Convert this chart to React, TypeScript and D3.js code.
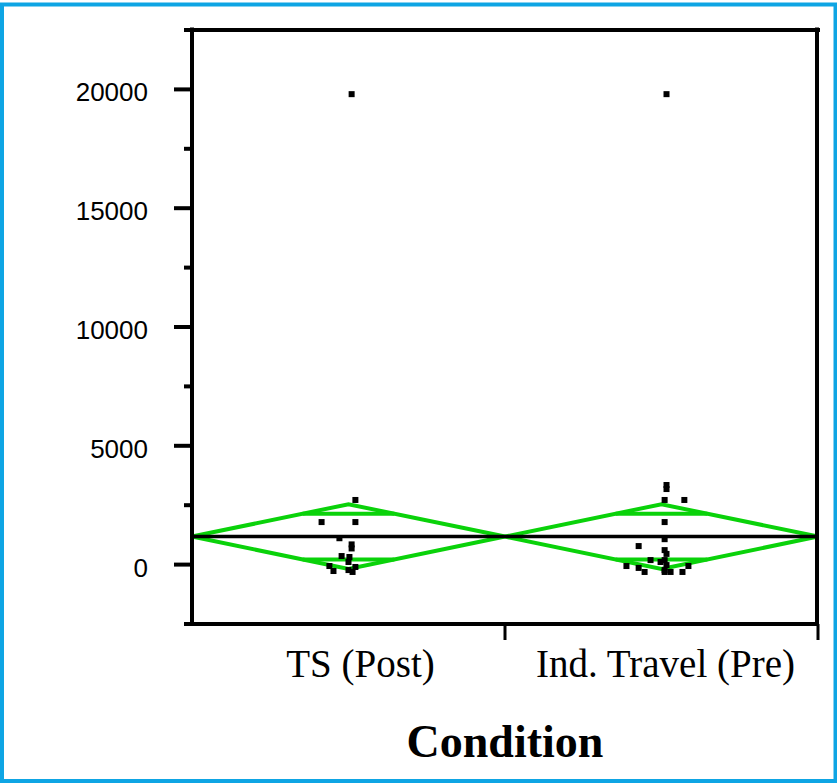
import React from "react";
import * as d3 from "d3";

const categories = ["TS (Post)", "Ind. Travel (Pre)"];
const groupMeans = [1180, 1180];
const groupUpper = [2540, 2540];
const groupLower = [-180, -180];
const grandMean = 1180;

const tsValues = [19800, 2720, 1790, 1790, 1110, 850, 680, 360, 320, 110, -60, -270, -230, -100, -310];
const tsJitter = [0.01, 0.022, -0.086, 0.022, -0.029, 0.01, 0.01, -0.022, 0.003, 0, -0.061, -0.048, 0, 0.022, 0.013];
const indValues = [19800, 3350, 3180, 2720, 2720, 1790, 1070, 780, 610, 450, 190, -20, -230, 190, 110, -60, -140, -310, -60, -310, -310, -310];
const indJitter = [0.016, 0.016, 0.016, 0.01, 0.073, 0.01, 0.01, -0.073, 0.01, 0.016, 0.01, 0.016, 0.01, -0.035, -0.003, -0.112, -0.073, -0.054, 0.086, 0.067, 0.029, 0.01];

const majorTicks = [0, 5000, 10000, 15000, 20000];
const minorTicks = [-2500, 2500, 7500, 12500, 17500, 22500];
const xTitle = "Condition";

const W = 837;
const H = 783;
const GREEN = "#0ad20a";

export default function App() {
  const x = d3.scaleBand<string>().domain(categories).range([192, 818]).padding(0);
  const y = d3.scaleLinear().domain([-2500, 22500]).range([624, 30]);
  const bw = x.bandwidth();
  const groups = [
    { cat: categories[0], values: tsValues, jitter: tsJitter },
    { cat: categories[1], values: indValues, jitter: indJitter },
  ];
  const labelDx = [12, 4];
  const line = d3.line<[number, number]>();

  return (
    <svg width={W} height={H} style={{ position: "absolute", left: 0, top: 0, background: "#fff" }}>
      <rect x={2} y={4.5} width={833.5} height={776.5} fill="#fff" stroke="#0ea5e4" strokeWidth={4} />

      {/* diamonds */}
      {groups.map((g, i) => {
        const x0 = x(g.cat)!;
        const x1 = x0 + bw;
        const cx = x0 + bw / 2;
        const m = groupMeans[i];
        const up = groupUpper[i];
        const lo = groupLower[i];
        const k = 1 / Math.SQRT2;
        const ovU = m + (up - m) * k;
        const ovL = m - (m - lo) * k;
        const half = (bw / 2) * (1 - k);
        return (
          <g key={"d" + i} stroke={GREEN} strokeWidth={4} fill="none">
            <path d={line([[x0, y(m)], [cx, y(up)], [x1, y(m)], [cx, y(lo)], [x0, y(m)]])!} strokeLinejoin="miter" />
            <line x1={cx - half} x2={cx + half} y1={y(ovU)} y2={y(ovU)} />
            <line x1={cx - half} x2={cx + half} y1={y(ovL)} y2={y(ovL)} />
          </g>
        );
      })}

      {/* grand mean */}
      <line x1={192} x2={818} y1={y(grandMean)} y2={y(grandMean)} stroke="#000" strokeWidth={3.5} />

      {/* points */}
      {groups.map((g, i) => {
        const cx = x(g.cat)! + bw / 2;
        return g.values.map((v, j) => (
          <rect key={"p" + i + "-" + j} x={cx + g.jitter[j] * bw - 3} y={y(v) - 3} width={6} height={6} fill="#000" />
        ));
      })}

      {/* frame */}
      <g stroke="#000" strokeWidth={4} fill="none">
        <line x1={192} x2={192} y1={27.5} y2={626} />
        <line x1={192} x2={820} y1={y(22500)} y2={y(22500)} />
        <line x1={817} x2={817} y1={27.5} y2={626} />
        <line x1={192} x2={819} y1={y(-2500)} y2={y(-2500)} />
        {majorTicks.map((t) => (
          <line key={"M" + t} x1={174} x2={192} y1={y(t)} y2={y(t)} />
        ))}
        {minorTicks.map((t) => (
          <line key={"m" + t} x1={184} x2={192} y1={y(t)} y2={y(t)} />
        ))}
      </g>
      <g stroke="#000" strokeWidth={3}>
        {categories.map((c) => (
          <line key={"xt" + c} x1={x(c)! + bw} x2={x(c)! + bw} y1={624} y2={640} />
        ))}
      </g>

      {/* y tick labels */}
      {majorTicks.map((t) => (
        <text key={"l" + t} x={148} y={y(t) + 12} textAnchor="end" fontFamily="Liberation Sans, Arial, sans-serif" fontSize={26} fill="#000">
          {t}
        </text>
      ))}

      {/* category labels */}
      {categories.map((c, i) => (
        <text key={"c" + c} x={x(c)! + bw / 2 + labelDx[i]} y={677} textAnchor="middle" fontFamily="Liberation Serif, Times New Roman, serif" fontSize={39} fill="#000">
          {c}
        </text>
      ))}

      <text x={505} y={757} textAnchor="middle" fontFamily="Liberation Serif, Times New Roman, serif" fontWeight="bold" fontSize={46} fill="#000">
        {xTitle}
      </text>
    </svg>
  );
}
